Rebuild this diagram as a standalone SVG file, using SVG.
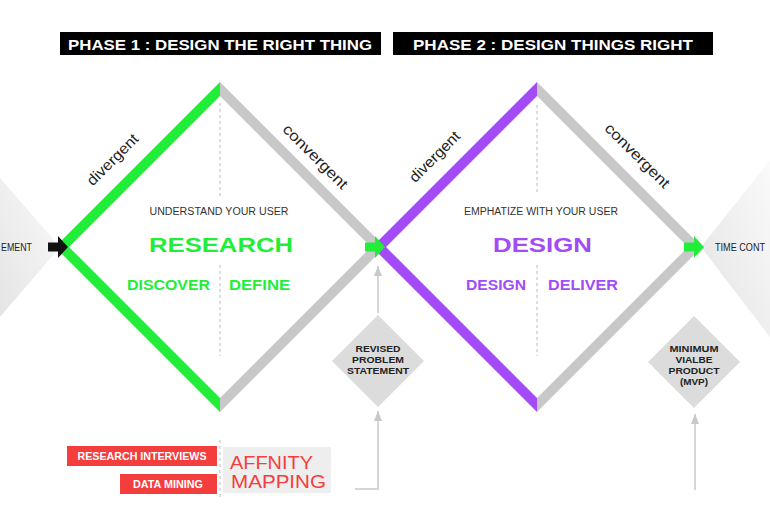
<svg xmlns="http://www.w3.org/2000/svg" xmlns:xlink="http://www.w3.org/1999/xlink" width="770" height="515" viewBox="0 0 770 515">
<style>
  text { font-family: "Liberation Sans", Arial, sans-serif; }
  .hdr { fill: #fff; font-size: 15px; font-weight: bold; }
  .lbl { fill: #222; font-size: 15px; }
  .sub { fill: #333; font-size: 10px; }
  .big { font-size: 20px; font-weight: bold; text-anchor: middle; }
  .mid { font-size: 14px; font-weight: bold; }
  .g { fill: #22ee3a; }
  .p { fill: #a24bf6; }
  .small { fill: #222; font-size: 9px; font-weight: bold; text-anchor: middle; }
  .dash { stroke: #bbbbbb; stroke-width: 1; stroke-dasharray: 3 3; fill: none; }
  .conn { stroke: #c8c8c8; stroke-width: 1.5; fill: none; marker-end: url(#ah); }
  .red { fill: #f43d3d; }
  .wt { fill: #fff; font-size: 11px; font-weight: bold; text-anchor: middle; }
  .ctx { fill: #222; font-size: 11px; }
</style>
<defs>
  <linearGradient id="gl" x1="0" y1="1" x2="1" y2="0">
    <stop offset="0" stop-color="#e4e4e4"/>
    <stop offset="1" stop-color="#fafafa"/>
  </linearGradient>
  <linearGradient id="gr" x1="0" y1="1" x2="1" y2="0">
    <stop offset="0" stop-color="#e3e3e3"/>
    <stop offset="1" stop-color="#fafafa"/>
  </linearGradient>
  <marker id="ah" markerUnits="userSpaceOnUse" markerWidth="10" markerHeight="8" viewBox="0 0 10 8" refX="10" refY="4" orient="auto">
    <path d="M0,0 L10,4 L0,8 Z" fill="#c8c8c8"/>
  </marker>
  <path id="arr" d="M-20,-4.5 H-10 V-11 L0,0 L-10,11 V4.5 H-20 Z"/>
</defs>
<rect width="770" height="515" fill="#fff"/>

<g id="context-left">
  <polygon points="0,178 60,247 0,317" fill="url(#gl)"/>
  <text class="ctx" x="1" y="251" textLength="31" lengthAdjust="spacingAndGlyphs">EMENT</text>
</g>
<g id="context-right">
  <polygon points="701,247 770,160 770,337" fill="url(#gr)"/>
  <text class="ctx" x="715" y="251" textLength="50" lengthAdjust="spacingAndGlyphs">TIME CONT</text>
</g>

<g id="header-phase1">
  <rect x="60" y="32" width="321" height="23" fill="#000"/>
  <text class="hdr" x="68" y="49.5" textLength="304" lengthAdjust="spacingAndGlyphs">PHASE 1 : DESIGN THE RIGHT THING</text>
</g>
<g id="header-phase2">
  <rect x="393" y="32" width="320" height="23" fill="#000"/>
  <text class="hdr" x="413" y="49.5" textLength="280" lengthAdjust="spacingAndGlyphs">PHASE 2 : DESIGN THINGS RIGHT</text>
</g>

<g id="diamond-research">
  <polygon points="220,82 385,247 220,412 220,398 371,247 220,96" fill="#c8c8c8"/>
  <polygon points="220,82 55,247 220,412 220,398 69,247 220,96" fill="#22ee3a"/>
  <path class="dash" d="M220,103 V198 M220,265 V356"/>
  <text class="lbl" transform="translate(113,160) rotate(-45)" text-anchor="middle" dy="0.3em" textLength="66" lengthAdjust="spacingAndGlyphs">divergent</text>
  <text class="lbl" transform="translate(315,157) rotate(45)" text-anchor="middle" dy="0.3em" textLength="85" lengthAdjust="spacingAndGlyphs">convergent</text>
  <text class="sub" x="219" y="215" text-anchor="middle" textLength="139" lengthAdjust="spacingAndGlyphs">UNDERSTAND YOUR USER</text>
  <text class="big g" x="221" y="252" textLength="144" lengthAdjust="spacingAndGlyphs">RESEARCH</text>
  <text class="mid g" x="127" y="290" textLength="83" lengthAdjust="spacingAndGlyphs">DISCOVER</text>
  <text class="mid g" x="229" y="290" textLength="61" lengthAdjust="spacingAndGlyphs">DEFINE</text>
</g>

<g id="diamond-design">
  <polygon points="537,82 702,247 537,412 537,398 688,247 537,96" fill="#c8c8c8"/>
  <polygon points="537,82 372,247 537,412 537,398 386,247 537,96" fill="#a24bf6"/>
  <path class="dash" d="M537,105 V194 M537,265 V356"/>
  <text class="lbl" transform="translate(435,157) rotate(-45)" text-anchor="middle" dy="0.3em" textLength="65" lengthAdjust="spacingAndGlyphs">divergent</text>
  <text class="lbl" transform="translate(637,156) rotate(45)" text-anchor="middle" dy="0.3em" textLength="85" lengthAdjust="spacingAndGlyphs">convergent</text>
  <text class="sub" x="541" y="215" text-anchor="middle" textLength="154" lengthAdjust="spacingAndGlyphs">EMPHATIZE WITH YOUR USER</text>
  <text class="big p" x="542.5" y="252" textLength="99" lengthAdjust="spacingAndGlyphs">DESIGN</text>
  <text class="mid p" x="466" y="290" textLength="60" lengthAdjust="spacingAndGlyphs">DESIGN</text>
  <text class="mid p" x="548" y="290" textLength="70" lengthAdjust="spacingAndGlyphs">DELIVER</text>
</g>

<g id="arrow-in" fill="#111">
  <use xlink:href="#arr" href="#arr" transform="translate(68,247)"/>
</g>
<g id="arrow-mid" fill="#22ee3a">
  <use xlink:href="#arr" href="#arr" transform="translate(385,247)"/>
</g>
<g id="arrow-out" fill="#22ee3a">
  <use xlink:href="#arr" href="#arr" transform="translate(704,247)"/>
</g>

<g id="revised-problem-statement">
  <polygon points="378,315 424,361 378,407 332,361" fill="#dcdcdc"/>
  <text class="small" x="378" y="352" textLength="45" lengthAdjust="spacingAndGlyphs">REVISED</text>
  <text class="small" x="378" y="363" textLength="52" lengthAdjust="spacingAndGlyphs">PROBLEM</text>
  <text class="small" x="378" y="374" textLength="62" lengthAdjust="spacingAndGlyphs">STATEMENT</text>
</g>

<g id="mvp">
  <polygon points="694,316 740,362 694,408 648,362" fill="#dcdcdc"/>
  <text class="small" x="694" y="352" textLength="49" lengthAdjust="spacingAndGlyphs">MINIMUM</text>
  <text class="small" x="694" y="363" textLength="37" lengthAdjust="spacingAndGlyphs">VIALBE</text>
  <text class="small" x="694" y="374" textLength="51" lengthAdjust="spacingAndGlyphs">PRODUCT</text>
  <text class="small" x="694" y="384.5" textLength="28" lengthAdjust="spacingAndGlyphs">(MVP)</text>
</g>

<g id="research-interviews">
  <rect class="red" x="67" y="446" width="150" height="20"/>
  <text class="wt" x="142" y="460" textLength="129" lengthAdjust="spacingAndGlyphs">RESEARCH INTERVIEWS</text>
</g>
<g id="data-mining">
  <rect class="red" x="120" y="474" width="97" height="20"/>
  <text class="wt" x="168" y="488" textLength="70" lengthAdjust="spacingAndGlyphs">DATA MINING</text>
</g>
<g id="affinity-mapping">
  <path class="dash" d="M220,440 V498"/>
  <rect x="223" y="447" width="108" height="46" fill="#eeeeee"/>
  <text x="230" y="469" font-size="18.5" fill="#f43d3d" textLength="83" lengthAdjust="spacingAndGlyphs">AFFNITY</text>
  <text x="231" y="488" font-size="18.5" fill="#f43d3d" textLength="95" lengthAdjust="spacingAndGlyphs">MAPPING</text>
</g>

<g id="connectors">
  <path class="conn" d="M378,313 V266"/>
  <path class="conn" d="M355,489 H378 V411"/>
  <path class="conn" d="M695,490 V414"/>
</g>
</svg>
